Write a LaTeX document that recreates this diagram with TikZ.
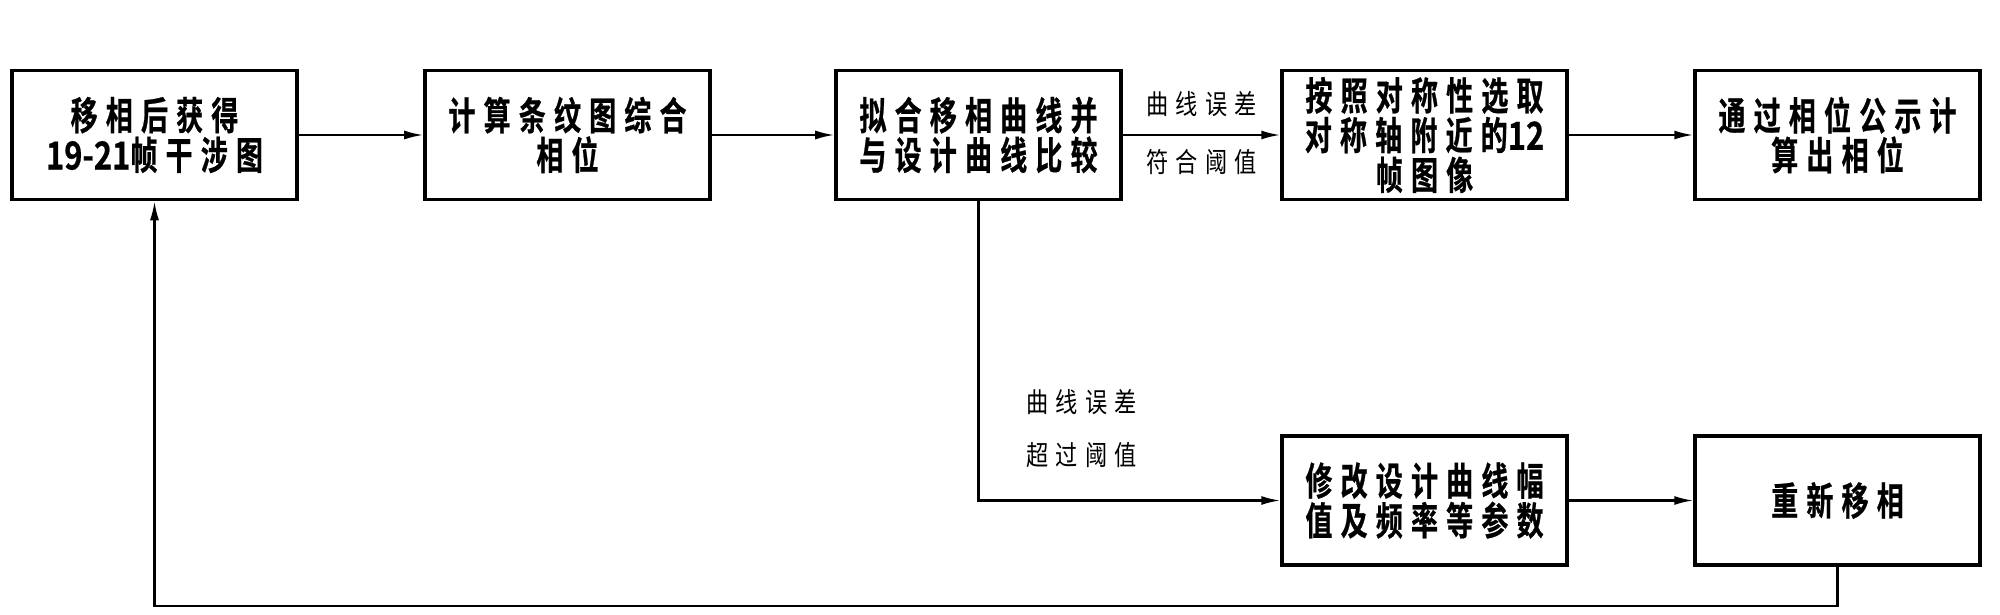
\documentclass[tikz,border=0pt]{standalone}
\usepackage{fontspec}
\newfontfamily\boxfont[FakeStretch=0.7,LetterSpace=21,FakeBold=0.6]{Noto Sans CJK SC Bold}
\newfontfamily\numfont[FakeStretch=0.8,FakeBold=0.6]{Noto Sans CJK SC Bold}
\newfontfamily\lblfont[FakeStretch=0.81,LetterSpace=26]{Noto Sans CJK SC}
\usetikzlibrary{arrows.meta,positioning}

\begin{document}
\begin{tikzpicture}[>={Latex[length=1.9mm,width=0.9mm]},node distance=4.13cm,on grid,
   block/.style={draw,line width=1pt,minimum width=2.85cm,minimum height=1.29cm,inner sep=0pt,
      align=center,font=\boxfont\fontsize{11}{11.3}\selectfont},
   lbl/.style={inner sep=0pt,font=\lblfont\fontsize{7.8}{15.2}\selectfont}]
   \useasboundingbox (-1.545,-4.80) rectangle (18.455,1.35);
   \node[block] (acq) {移相后获得\\{\numfont 19-21}帧干涉图};
   \node[block] (comb) [right=of acq] {计算条纹图综合\\相位};
   \node[block] (fit) [right=4.11cm of comb] {拟合移相曲线并\\与设计曲线比较};
   \node[block] (sym) [right=4.46cm of fit] {按照对称性选取\\对称轴附近的{\numfont 12}\\帧图像};
   \node[block] (calc) [right=of sym] {通过相位公示计\\算出相位};
   \node[block] (mod) [below=3.655cm of sym] {修改设计曲线幅\\值及频率等参数};
   \node[block] (redo) [right=of mod] {重新移相};
    \path[->,line width=0.6pt]
    (acq) edge (comb)
    (comb) edge (fit)
    (fit) edge node [lbl,above=1.7mm] {曲线误差} node [lbl,below=1.3mm] {符合阈值} (sym)
    (sym) edge (calc)
    (mod) edge (redo);
    \draw[->,line width=0.6pt] (fit) |- node [lbl,pos=0.38,right=4.7mm,align=left] {曲线误差\\超过阈值} (mod);
    \draw[->,line width=0.6pt] (redo.south) -- ++(0,-0.39) -| (acq);
\end{tikzpicture}
\end{document}
